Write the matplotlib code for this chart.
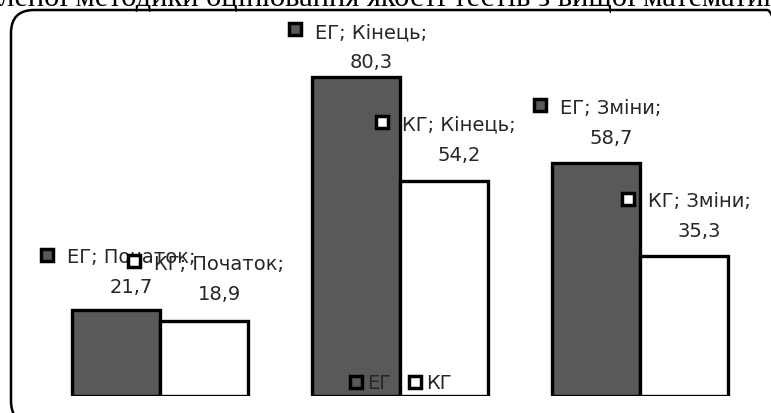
import matplotlib
matplotlib.use("Agg")
import matplotlib.pyplot as plt
import numpy as np
from matplotlib.patches import FancyBboxPatch
from matplotlib.lines import Line2D
from matplotlib.transforms import IdentityTransform

# Data
categories = ["Початок", "Кінець", "Зміни"]
series_names = ["ЕГ", "КГ"]
eg_values = [21.7, 80.3, 58.7]
kg_values = [18.9, 54.2, 35.3]
title = ("Результати впровадження розробленої методики оцінювання "
         "якості тестів з вищої математики")

# Styling
eg_color = "#595959"
kg_color = "#ffffff"
text_color = "#262626"
label_font = ["Liberation Sans Narrow", "DejaVu Sans"]
label_size = 14
eg_rise = [23, 16, 26]   # pixel gap from bar top to value line
kg_rise = [28, 27, 25]

W, H = 771, 414
fig = plt.figure(figsize=(W / 100, H / 100), dpi=100)


def px_box(left, top, width, height):
    return [left / W, 1 - (top + height) / H, width / W, height / H]


# Rounded chart frame
frame = FancyBboxPatch((11 / W, 1 - 425 / H), (790 - 11) / W, (425 - 11) / H,
                       boxstyle="round,pad=0,rounding_size=0.03",
                       transform=fig.transFigure, facecolor="none",
                       edgecolor="black", linewidth=1.8, mutation_aspect=W / H)
fig.add_artist(frame)

# Title (runs past the figure edges)
fig.text(795 / W, 1 - 6 / H, title, ha="right", va="baseline",
         fontfamily="Liberation Serif", fontsize=22, color="black")

ax = fig.add_axes(px_box(40, 40, 720, 357))
x = np.arange(len(categories))
width = 0.367
bars_eg = ax.bar(x - width / 2, eg_values, width, color=eg_color,
                 edgecolor="black", linewidth=2.4)
bars_kg = ax.bar(x + width / 2, kg_values, width, color=kg_color,
                 edgecolor="black", linewidth=2.4)
ax.set_xlim(-0.5, len(categories) - 0.5)
ax.set_ylim(0, 90)
ax.axis("off")


def fmt(v):
    return f"{v:.1f}".replace(".", ",")


line1_texts = []
for name, vals, xs, rises, color in [
        (series_names[0], eg_values, x - width / 2, eg_rise, eg_color),
        (series_names[1], kg_values, x + width / 2, kg_rise, kg_color)]:
    for cat, v, xc, r in zip(categories, vals, xs, rises):
        ax.annotate(fmt(v), xy=(xc, v), xytext=(15, r),
                    textcoords="offset pixels", ha="center", va="center",
                    fontsize=label_size, family=label_font, color=text_color)
        t = ax.annotate(f"{name}; {cat};", xy=(xc, v), xytext=(15, r + 30),
                        textcoords="offset pixels", ha="center", va="center",
                        fontsize=label_size, family=label_font,
                        color=text_color)
        line1_texts.append((t, color))

fig.canvas.draw()
renderer = fig.canvas.get_renderer()
for t, color in line1_texts:
    bb = t.get_window_extent(renderer)
    cy = (bb.y0 + bb.y1) / 2
    fig.add_artist(Line2D([bb.x0 - 20], [cy + 2], marker="s", markersize=9,
                          markerfacecolor=color, markeredgecolor="black",
                          markeredgewidth=2.5, linestyle="none",
                          transform=IdentityTransform()))

handles = [Line2D([], [], marker="s", markersize=9, markerfacecolor=c,
                  markeredgecolor="black", markeredgewidth=2.5,
                  linestyle="none") for c in (eg_color, kg_color)]
fig.legend(handles, series_names, loc="center",
           bbox_to_anchor=(400 / W, 1 - 384 / H), ncol=2, frameon=False,
           handlelength=0.8, handletextpad=0.2, columnspacing=0.8,
           prop={"family": label_font, "size": label_size},
           labelcolor=text_color)

fig.savefig("out.png", dpi=100)
